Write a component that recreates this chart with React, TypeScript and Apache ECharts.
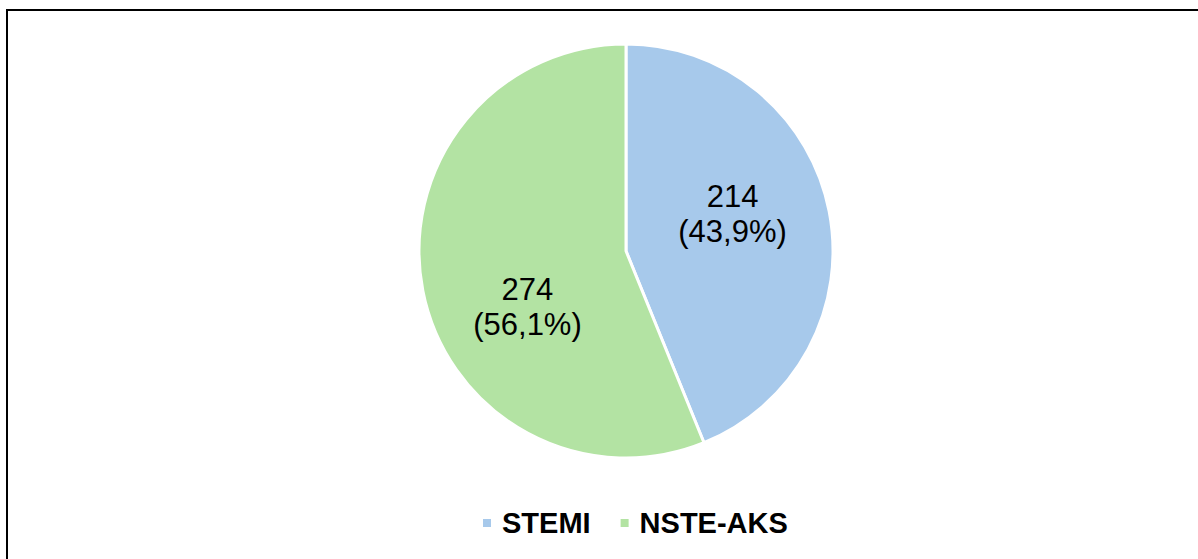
import React, { useEffect, useRef } from "react";
import * as echarts from "echarts";

const categories = ["STEMI", "NSTE-AKS"];
const values = [214, 274];
const percents = ["43,9%", "56,1%"];
const colors = ["#A7C9EB", "#B3E3A3"];

export default function App() {
  const ref = useRef<HTMLDivElement>(null);
  useEffect(() => {
    if (!ref.current) return;
    const chart = echarts.init(ref.current, null, { renderer: "svg" });
    const labelOffsets = [
      [2, -17],
      [6, 36],
    ];
    chart.setOption({
      animation: false,
      backgroundColor: "#ffffff",
      graphic: [
        {
          type: "rect",
          shape: { x: 7, y: 10, width: 1300, height: 700 },
          style: { fill: "none", stroke: "#000000", lineWidth: 2 },
          silent: true,
        },
      ],
      legend: {
        data: categories,
        left: 481,
        top: 508,
        padding: 0,
        icon: "rect",
        itemWidth: 10,
        itemHeight: 10,
        itemGap: 28,
        textStyle: {
          fontFamily: "Liberation Sans, Arial, sans-serif",
          fontWeight: "bold",
          fontSize: 29,
          color: "#000000",
          lineHeight: 30,
          padding: [0, 0, 0, 5],
        },
      },
      series: [
        {
          type: "pie",
          center: [626, 251],
          radius: 207,
          startAngle: 90,
          clockwise: true,
          itemStyle: { borderColor: "#ffffff", borderWidth: 3 },
          label: {
            show: true,
            position: "inside",
            fontFamily: "Liberation Sans, Arial, sans-serif",
            fontSize: 31,
            lineHeight: 35,
            color: "#000000",
          },
          labelLine: { show: false },
          emphasis: { disabled: true },
          data: categories.map((name, i) => ({
            name,
            value: values[i],
            itemStyle: { color: colors[i] },
            label: {
              formatter: `${values[i]}\n(${percents[i]})`,
              offset: labelOffsets[i],
            },
          })),
        },
      ],
    });
    return () => chart.dispose();
  }, []);
  return (
    <div
      ref={ref}
      style={{ position: "fixed", left: 0, top: 0, width: 1198, height: 559 }}
    />
  );
}
